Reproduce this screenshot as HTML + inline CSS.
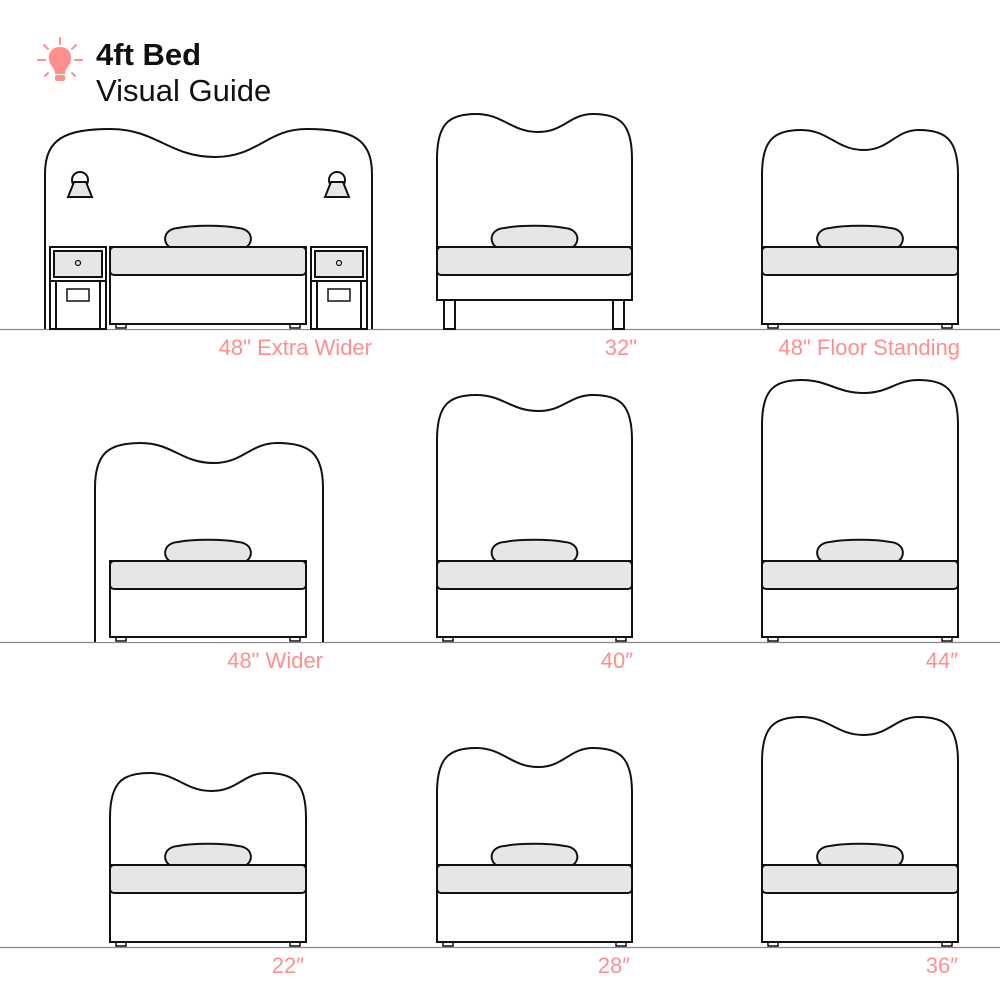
<!DOCTYPE html>
<html><head><meta charset="utf-8"><style>
html,body{margin:0;padding:0;background:#fff;}
svg{display:block}
text{font-family:"Liberation Sans",sans-serif}
.lbl{fill:#ff8f8f;font-size:22px;text-anchor:end}
</style></head><body>
<svg id="s" width="1000" height="1000" viewBox="0 0 1000 1000" xmlns="http://www.w3.org/2000/svg">
<rect width="1000" height="1000" fill="#fff"/>
<g stroke="#888" stroke-width="1.2">
<line x1="0" y1="329.5" x2="1000" y2="329.5"/>
<line x1="0" y1="642.5" x2="1000" y2="642.5"/>
<line x1="0" y1="947.5" x2="1000" y2="947.5"/>
</g>
<g stroke="#ff8f8f" stroke-width="2" stroke-linecap="round">
<line x1="38" y1="60" x2="45" y2="60"/><line x1="75" y1="60" x2="82" y2="60"/>
<line x1="60" y1="38" x2="60" y2="44"/><line x1="44" y1="45" x2="48" y2="49"/>
<line x1="76" y1="45" x2="72" y2="49"/><line x1="45" y1="76" x2="48" y2="73"/><line x1="75" y1="76" x2="72" y2="73"/>
</g>
<path d="M60 47 C52 47 48 53 49 60 C50 66 55 68 55 74 L65 74 C65 68 70 66 71 60 C72 53 68 47 60 47Z" fill="#ff8f8f"/>
<rect x="55" y="75" width="10" height="6" rx="2" fill="#ff8f8f"/>
<text x="96" y="65" font-size="31" font-weight="bold" fill="#111">4ft Bed</text>
<text x="96" y="101" font-size="31" fill="#111">Visual Guide</text>
<text class="lbl" x="372" y="355">48" Extra Wider</text>
<text class="lbl" x="637" y="355">32"</text>
<text class="lbl" x="960" y="355">48" Floor Standing</text>
<text class="lbl" x="323" y="668">48"  Wider</text>
<text class="lbl" x="633" y="668">40″</text>
<text class="lbl" x="958" y="668">44″</text>
<text class="lbl" x="304" y="973">22″</text>
<text class="lbl" x="630" y="973">28″</text>
<text class="lbl" x="958" y="973">36″</text>
<g id="g" fill="none" stroke="#111" stroke-width="2"></g>
</svg>
<script>
var g=document.getElementById('g'),h='';
function hb(x0,x1,P,D,bot){var W=x1-x0,a=x0+0.2*W,b=x1-0.2*W,m=x0+0.52*W;
h+='<path fill="#fff" d="M'+x0+' '+bot+' L'+x0+' '+(P+45)+' C'+x0+' '+(P+10)+' '+(x0+0.06*W)+' '+P+' '+a+' '+P+
' C'+(a+0.14*W)+' '+P+' '+(m-0.14*W)+' '+D+' '+m+' '+D+
' C'+(m+0.13*W)+' '+D+' '+(b-0.12*W)+' '+P+' '+b+' '+P+
' C'+(x1-0.06*W)+' '+P+' '+x1+' '+(P+10)+' '+x1+' '+(P+45)+' L'+x1+' '+bot+'"/>';}
function bed(x0,x1,mt,floor,legs){var px=(x0+x1)/2;
h+='<path d="M'+(px-36)+' '+(mt+1)+' C'+(px-46)+' '+(mt-2)+' '+(px-46)+' '+(mt-18)+' '+(px-30)+' '+(mt-19)+' C'+(px-15)+' '+(mt-22)+' '+(px+15)+' '+(mt-22)+' '+(px+30)+' '+(mt-19)+' C'+(px+46)+' '+(mt-18)+' '+(px+46)+' '+(mt-2)+' '+(px+36)+' '+(mt+1)+'Z" fill="#e6e6e6"/>';
if(legs){h+='<rect x="'+(x0+7)+'" y="'+(mt+50)+'" width="11" height="'+(floor-mt-50)+'" fill="#fff"/><rect x="'+(x1-19)+'" y="'+(mt+50)+'" width="11" height="'+(floor-mt-50)+'" fill="#fff"/>';
h+='<rect x="'+x0+'" y="'+mt+'" width="'+(x1-x0)+'" height="53" fill="#fff"/>';}
else{h+='<rect x="'+(x0+6)+'" y="'+(floor-6)+'" width="10" height="5" fill="#fff" stroke-width="1.5"/><rect x="'+(x1-16)+'" y="'+(floor-6)+'" width="10" height="5" fill="#fff" stroke-width="1.5"/>';
h+='<rect x="'+x0+'" y="'+mt+'" width="'+(x1-x0)+'" height="'+(floor-5-mt)+'" fill="#fff"/>';}
h+='<rect x="'+x0+'" y="'+mt+'" width="'+(x1-x0)+'" height="28" rx="4" fill="#e6e6e6"/>';}
function ns(x0){h+='<rect x="'+x0+'" y="247" width="56" height="82" fill="#fff"/>';
h+='<rect x="'+(x0+4)+'" y="251" width="48" height="26" fill="#e6e6e6"/><line x1="'+x0+'" y1="281" x2="'+(x0+56)+'" y2="281"/>';
h+='<line x1="'+(x0+6)+'" y1="281" x2="'+(x0+6)+'" y2="329"/><line x1="'+(x0+50)+'" y1="281" x2="'+(x0+50)+'" y2="329"/>';
h+='<circle cx="'+(x0+28)+'" cy="263" r="2.5" stroke-width="1.2"/><rect x="'+(x0+17)+'" y="289" width="22" height="12" stroke-width="1.5"/>';}
function lamp(cx){h+='<circle cx="'+cx+'" cy="180" r="8" fill="#fff"/><path d="M'+(cx-6)+' 182 L'+(cx+6)+' 182 L'+(cx+12)+' 197 L'+(cx-12)+' 197Z" fill="#e6e6e6"/>';}
hb(45,372,129,157,329);lamp(80);lamp(337);ns(50);ns(311);bed(110,306,247,329,false);
hb(437,632,114,132,247);bed(437,632,247,329,true);
hb(762,958,130,150,247);bed(762,958,247,329,false);
hb(95,323,443,463,642);bed(110,306,561,642,false);
hb(437,632,395,411,561);bed(437,632,561,642,false);
hb(762,958,380,393,561);bed(762,958,561,642,false);
hb(110,306,773,791,865);bed(110,306,865,947,false);
hb(437,632,748,767,865);bed(437,632,865,947,false);
hb(762,958,717,735,865);bed(762,958,865,947,false);
g.innerHTML=h;
</script>
</body></html>
